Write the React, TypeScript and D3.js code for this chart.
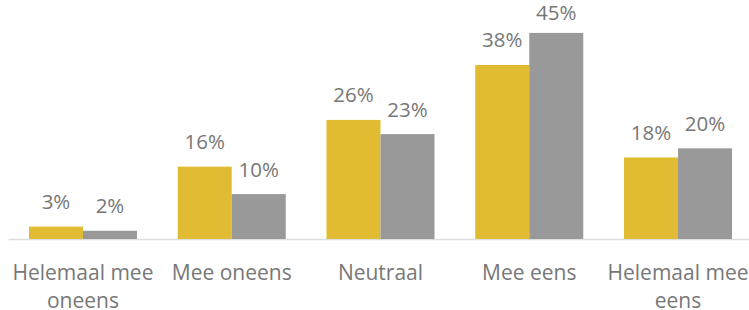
import React from "react";
import * as d3 from "d3";

const categories = ["Helemaal mee oneens", "Mee oneens", "Neutraal", "Mee eens", "Helemaal mee eens"];
const categoryLines = [["Helemaal mee", "oneens"], ["Mee oneens"], ["Neutraal"], ["Mee eens"], ["Helemaal mee", "eens"]];
const seriesNames = ["A", "B"];
const seriesA = [2.7, 15.8, 26.0, 38.0, 17.8];
const seriesB = [1.8, 9.8, 22.9, 45.0, 19.8];
const colors = ["#E1BC33", "#999999"];

const W = 749;
const H = 310;
const FONT = "'Open Sans', sans-serif";
const TEXT = "#777777";

export default function App() {
  const baseY = 239;
  const x0 = d3.scaleBand<string>().domain(categories).range([8.6, 752.4]).paddingInner(0.274).paddingOuter(0.137);
  const x1 = d3.scaleBand<string>().domain(seriesNames).range([0, x0.bandwidth()]);
  const y = d3.scaleLinear().domain([0, 50]).range([baseY, 10]);
  const data = [seriesA, seriesB];

  return (
    <svg width={W} height={H} style={{ position: "absolute", left: 0, top: 0, background: "#fff" }}>
      <line x1={8.6} x2={W} y1={baseY + 0.5} y2={baseY + 0.5} stroke="#dedede" strokeWidth={1.5} />
      {categories.map((c, i) => (
        <g key={c}>
          {data.map((vals, s) => {
            const bx = (x0(c) as number) + (x1(seriesNames[s]) as number);
            const top = y(vals[i]);
            const ly = Math.max(top - 17.5, 20);
            return (
              <g key={s}>
                <rect x={bx} y={top} width={x1.bandwidth()} height={baseY - top} fill={colors[s]} />
                <text x={bx + x1.bandwidth() / 2} y={ly} textAnchor="middle" fontFamily={FONT} fontSize={20.5} fill={TEXT}>
                  {Math.round(vals[i])}%
                </text>
              </g>
            );
          })}
          {categoryLines[i].map((t, k) => (
            <text key={k} x={(x0(c) as number) + x0.bandwidth() / 2} y={280 + k * 28} textAnchor="middle" fontFamily={FONT} fontSize={21} fill={TEXT}>
              {t}
            </text>
          ))}
        </g>
      ))}
    </svg>
  );
}
